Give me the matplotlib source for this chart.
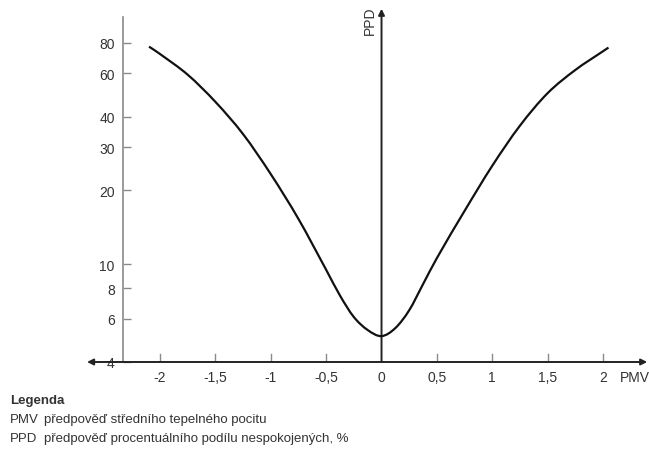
import numpy as np
import matplotlib.pyplot as plt
from matplotlib.path import Path
from matplotlib.patches import PathPatch
from matplotlib.ticker import FixedLocator, NullLocator, FixedFormatter

plt.rcParams['font.family'] = ['Liberation Sans', 'DejaVu Sans']

# PMV / PPD values
pmv = [-2.1, -2.0, -1.75, -1.5, -1.25, -1.0, -0.75, -0.5, -0.375, -0.25, -0.125,
       0.0, 0.125, 0.25, 0.375, 0.5, 0.75, 1.0, 1.25, 1.5, 1.75, 2.0, 2.05]
ppd = [77.1, 71.9, 59.2, 45.9, 33.9, 23.3, 15.3, 9.5, 7.46, 6.1, 5.4,
       5.1, 5.5, 6.5, 8.3, 10.6, 16.5, 25.2, 36.7, 49.8, 61.9, 73.8, 76.4]

x_ticks = [-2, -1.5, -1, -0.5, 0, 0.5, 1, 1.5, 2]
x_labels = ['-2', '-1,5', '-1', '-0,5', '0', '0,5', '1', '1,5', '2']
y_ticks = [4, 6, 8, 10, 20, 30, 40, 60, 80]
y_labels = ['4', '6', '8', '10', '20', '30', '40', '60', '80']

legend_rows = [('PMV', 'předpověď středního tepelného pocitu'),
               ('PPD', 'předpověď procentuálního podílu nespokojených, %')]


def smooth_path(xs, ys):
    # cubic Hermite through the read points, in log(y) so it is smooth on the log axis
    x = np.asarray(xs, float)
    y = np.log10(ys)
    n = len(x)
    m = np.empty(n)
    m[1:-1] = (y[2:] - y[:-2]) / (x[2:] - x[:-2])
    m[0] = (y[1] - y[0]) / (x[1] - x[0])
    m[-1] = (y[-1] - y[-2]) / (x[-1] - x[-2])
    verts = [(x[0], y[0])]
    codes = [Path.MOVETO]
    for i in range(n - 1):
        h = x[i + 1] - x[i]
        verts += [(x[i] + h / 3, y[i] + m[i] * h / 3),
                  (x[i + 1] - h / 3, y[i + 1] - m[i + 1] * h / 3),
                  (x[i + 1], y[i + 1])]
        codes += [Path.CURVE4] * 3
    verts = np.array(verts)
    verts[:, 1] = 10 ** verts[:, 1]
    return Path(verts, codes)


fig = plt.figure(figsize=(6.49, 4.52), dpi=100)
ax = fig.add_axes([123 / 649, 1 - 363 / 452, 1 - 123 / 649, 358 / 452])
ax.set_yscale('log')
ax.set_xlim(-2.335, 2.416)
ax.set_ylim(4, 115)

gray = '#8a8a8a'
txt = '#333333'

for s in ['top', 'right', 'bottom']:
    ax.spines[s].set_visible(False)
ax.spines['left'].set_color(gray)
ax.spines['left'].set_linewidth(1.2)
ax.spines['left'].set_bounds(4, 102)

ax.yaxis.set_major_locator(FixedLocator(y_ticks))
ax.yaxis.set_major_formatter(FixedFormatter(y_labels))
ax.yaxis.set_minor_locator(NullLocator())
ax.tick_params(axis='y', direction='in', length=6, width=1, color=gray,
               labelsize=10, labelcolor=txt, pad=6)
for lab in ax.get_yticklabels():
    if lab.get_text() == '4':
        lab.set_bbox(dict(facecolor='white', edgecolor='none', pad=1))
        lab.set_zorder(5)

ax.set_xticks([])

# x axis with arrows
ax.annotate('', xy=(-2.66, 4), xytext=(2.4, 4), annotation_clip=False,
            arrowprops=dict(arrowstyle='<|-|>', color='#222222', lw=1.4,
                            shrinkA=0, shrinkB=0, mutation_scale=9),
            zorder=3)
# PPD axis at PMV = 0
ax.annotate('', xy=(0, 110), xytext=(0, 4), annotation_clip=False,
            arrowprops=dict(arrowstyle='-|>', color='#222222', lw=1.4,
                            shrinkA=0, shrinkB=0, mutation_scale=9),
            zorder=3)

# x ticks drawn inward from the axis line
for t, l in zip(x_ticks, x_labels):
    if t != 0:
        ax.plot([t, t], [4, 4.3], color=gray, lw=1, zorder=2)
    ax.text(t, 3.7, l, ha='center', va='top', fontsize=10, color=txt)

ax.text(2.15, 3.7, 'PMV', ha='left', va='top', fontsize=10, color=txt)
ax.text(-0.045, 99, 'PPD', ha='right', va='center', rotation=90,
        fontsize=10, color=txt)

ax.add_patch(PathPatch(smooth_path(pmv, ppd), facecolor='none',
                       edgecolor='#111111', lw=1.6, zorder=4))

fig.text(10 / 649, 1 - 401 / 452, 'Legenda', fontsize=9.5, weight='bold',
         color=txt, va='center')
for i, (k, d) in enumerate(legend_rows):
    y = 1 - (420 + 19 * i) / 452
    fig.text(10 / 649, y, k, fontsize=9.5, color=txt, va='center')
    fig.text(44 / 649, y, d, fontsize=9.5, color=txt, va='center')

fig.savefig('out.png', dpi=100)
